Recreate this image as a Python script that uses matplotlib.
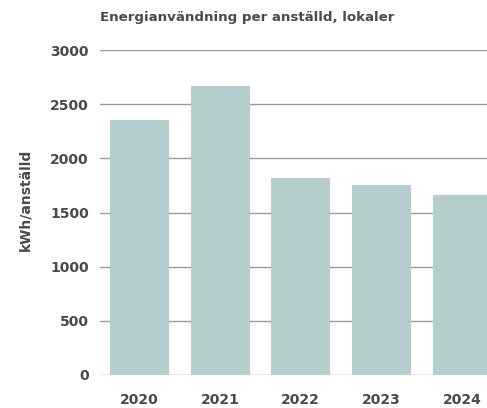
import matplotlib.pyplot as plt

years = ["2020", "2021", "2022", "2023", "2024"]
values = [2350, 2665, 1815, 1750, 1660]
yticks = [0, 500, 1000, 1500, 2000, 2500, 3000]

plt.rcParams['font.family'] = ['DejaVu Sans']

fig = plt.figure(figsize=(4.87, 4.08), dpi=100)
ax = fig.add_axes([100 / 487, 33 / 408, 387 / 487, 325 / 408])

ax.bar(range(len(years)), values, width=0.73, color="#b4cecd", zorder=2)

ax.set_ylim(0, 3000)
ax.set_xlim(-0.49, 4.31)
ax.set_yticks(yticks)
ax.set_yticklabels([str(t) for t in yticks])
ax.set_xticks(range(len(years)))
ax.set_xticklabels(years)
ax.yaxis.grid(True, color="#9a9a9a", linewidth=1.0, zorder=0)
ax.set_axisbelow(True)
for s in ax.spines.values():
    s.set_visible(False)
ax.tick_params(axis="both", length=0, labelsize=10, labelcolor="#4a4a4a")
ax.tick_params(axis="y", pad=8)
ax.tick_params(axis="x", pad=13)
for lbl in ax.get_xticklabels() + ax.get_yticklabels():
    lbl.set_fontweight("bold")

ax.set_ylabel("kWh/anställd", fontsize=10, fontweight="bold", color="#4a4a4a")
ax.yaxis.set_label_coords(-0.175, 0.54)
fig.text(100 / 487, 1 - 18 / 408, "Energianvändning per anställd, lokaler",
         fontsize=9.6, fontweight="bold", color="#4a4a4a", va="center", ha="left")

fig.savefig("out.png", dpi=100)
